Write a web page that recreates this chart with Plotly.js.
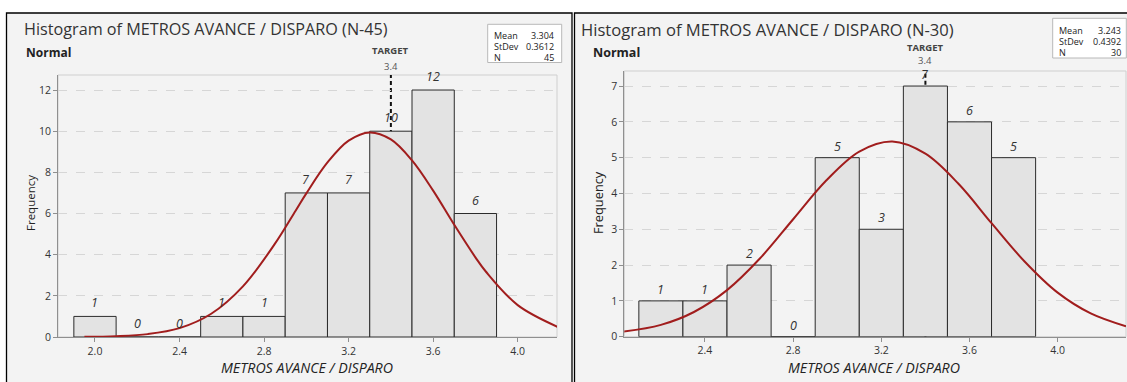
<!DOCTYPE html>
<html>
<head>
<meta charset="utf-8">
<script src="https://cdn.plot.ly/plotly-3.0.1.min.js"></script>
<style>
  html, body { margin: 0; padding: 0; background: #ffffff; }
  #chart { width: 1127px; height: 382px; }
</style>
</head>
<body>
<div id="chart"></div>
<script>
// ---------- DATA ----------
// Left panel (N = 45)
const leftBinCenters = [2.0, 2.2, 2.4, 2.6, 2.8, 3.0, 3.2, 3.4, 3.6, 3.8];
const leftCounts     = [1, 0, 0, 1, 1, 7, 7, 10, 12, 6];
const leftTitle = "Histogram of METROS AVANCE / DISPARO (N-45)";
const leftStatsLabels = ["Mean", "StDev", "N"];
const leftStatsValues = ["3.304", "0.3612", "45"];
// fitted normal curve
const leftCurveX = [1.95, 2.1, 2.25, 2.4, 2.55, 2.7, 2.85, 2.95, 3.0, 3.1, 3.2, 3.3, 3.4, 3.5, 3.6, 3.7, 3.8, 3.85, 4.0, 4.19];
const leftCurveY = [0.009, 0.039, 0.14, 0.43, 1.13, 2.46, 4.51, 6.15, 6.98, 8.48, 9.54, 9.94, 9.60, 8.58, 7.11, 5.45, 3.87, 3.17, 1.55, 0.49];

// Right panel (N = 30)
const rightBinCenters = [2.2, 2.4, 2.6, 2.8, 3.0, 3.2, 3.4, 3.6, 3.8];
const rightCounts     = [1, 1, 2, 0, 5, 3, 7, 6, 5];
const rightTitle = "Histogram of METROS AVANCE / DISPARO (N-30)";
const rightStatsLabels = ["Mean", "StDev", "N"];
const rightStatsValues = ["3.243", "0.4392", "30"];
const rightCurveX = [2.03, 2.2, 2.35, 2.5, 2.65, 2.8, 2.95, 3.1, 3.25, 3.4, 3.55, 3.7, 3.85, 4.0, 4.15, 4.31];
const rightCurveY = [0.14, 0.33, 0.69, 1.30, 2.19, 3.28, 4.36, 5.17, 5.45, 5.11, 4.27, 3.17, 2.10, 1.23, 0.65, 0.29];

const targetValue = 3.4;
const targetLabel = "TARGET";
const xAxisTitle = "METROS AVANCE / DISPARO";
const yAxisTitle = "Frequency";
const distLabel = "Normal";

// ---------- LAYOUT HELPERS ----------
const W = 1127, H = 382;
const px = v => v / W;
const py = v => 1 - v / H;
const FONT = "Open Sans, Noto Sans, DejaVu Sans, sans-serif";

const barColor = "#e3e3e3";
const barLine = "#2b2b2b";
const curveColor = "#a11d1d";

function barTrace(x, y, xa, ya) {
  return {
    type: "bar", x: x, y: y, width: 0.2, xaxis: xa, yaxis: ya,
    marker: { color: barColor, line: { color: barLine, width: 1 } },
    hoverinfo: "skip", showlegend: false
  };
}
function curveTrace(x, y, xa, ya) {
  return {
    type: "scatter", mode: "lines", x: x, y: y, xaxis: xa, yaxis: ya,
    line: { color: curveColor, width: 2, shape: "spline", smoothing: 1 },
    hoverinfo: "skip", showlegend: false, cliponaxis: true
  };
}

const data = [
  barTrace(leftBinCenters, leftCounts, "x", "y"),
  curveTrace(leftCurveX, leftCurveY, "x", "y"),
  barTrace(rightBinCenters, rightCounts, "x2", "y2"),
  curveTrace(rightCurveX, rightCurveY, "x2", "y2")
];

function xAxisCfg(domain, range, anchor) {
  return {
    domain: domain, range: range, anchor: anchor,
    tick0: 2.0, dtick: 0.4, tickformat: ".1f",
    showline: true, linecolor: "#8f8f8f", linewidth: 1,
    ticks: "outside", ticklen: 4, tickcolor: "#8f8f8f",
    tickfont: { family: FONT, size: 10.5, color: "#333" },
    showgrid: false, zeroline: false, fixedrange: true
  };
}
function yAxisCfg(domain, range, anchor, dtick) {
  return {
    domain: domain, range: range, anchor: anchor, dtick: dtick, tick0: 0,
    showline: true, linecolor: "#8f8f8f", linewidth: 1,
    ticks: "outside", ticklen: 4, tickcolor: "#8f8f8f",
    tickfont: { family: FONT, size: 10.5, color: "#333" },
    showgrid: true, gridcolor: "#d6d6d6", griddash: "dash", gridwidth: 1,
    zeroline: false, fixedrange: true
  };
}

const shapes = [
  // panel backgrounds
  { type: "rect", xref: "paper", yref: "paper", x0: px(6.5), x1: px(572), y0: py(390), y1: py(13),
    fillcolor: "#f3f3f3", line: { color: "#000", width: 1.3 }, layer: "below" },
  { type: "rect", xref: "paper", yref: "paper", x0: px(574.5), x1: px(1135), y0: py(390), y1: py(13),
    fillcolor: "#f3f3f3", line: { color: "#000", width: 1.3 }, layer: "below" },
  // stats boxes
  { type: "rect", xref: "paper", yref: "paper", x0: px(487.7), x1: px(561.7), y0: py(62.5), y1: py(24.3),
    fillcolor: "#ffffff", line: { color: "#b8b8b8", width: 1 }, layer: "below" },
  { type: "rect", xref: "paper", yref: "paper", x0: px(1052.7), x1: px(1126.3), y0: py(58), y1: py(18.3),
    fillcolor: "#ffffff", line: { color: "#b8b8b8", width: 1 }, layer: "below" },
  // plot frames
  { type: "rect", xref: "x domain", yref: "y domain", x0: 0, x1: 1, y0: 0, y1: 1,
    line: { color: "#cfcfcf", width: 1 }, layer: "below" },
  { type: "rect", xref: "x2 domain", yref: "y2 domain", x0: 0, x1: 1, y0: 0, y1: 1,
    line: { color: "#cfcfcf", width: 1 }, layer: "below" },
  // target lines (behind the bars)
  { type: "line", xref: "x", yref: "y domain", x0: targetValue, x1: targetValue, y0: 0, y1: 1,
    line: { color: "#111", width: 2, dash: "4px,3px" }, layer: "below" },
  { type: "line", xref: "x2", yref: "y2 domain", x0: targetValue, x1: targetValue, y0: 0, y1: 1,
    line: { color: "#111", width: 2, dash: "4px,3px" }, layer: "below" }
];

const ann = [];
function txt(o) { ann.push(Object.assign({ showarrow: false, xref: "paper", yref: "paper" }, o)); }

// titles
txt({ x: px(22), y: py(29), xanchor: "left", yanchor: "middle", text: leftTitle,
      font: { family: FONT, size: 16.2, color: "#333" } });
txt({ x: px(579), y: py(29), xanchor: "left", yanchor: "middle", text: rightTitle,
      font: { family: FONT, size: 16.6, color: "#333" } });
txt({ x: px(24), y: py(52.5), xanchor: "left", yanchor: "middle", text: "<b>" + distLabel + "</b>",
      font: { family: FONT, size: 12, color: "#222" } });
txt({ x: px(591), y: py(52.5), xanchor: "left", yanchor: "middle", text: "<b>" + distLabel + "</b>",
      font: { family: FONT, size: 12.5, color: "#222" } });

// stats
const leftStatY = [35, 46.6, 57.6];
const rightStatY = [30, 41.6, 52.6];
leftStatsLabels.forEach((l, i) => {
  txt({ x: px(491.5), y: py(leftStatY[i]), xanchor: "left", yanchor: "middle", text: l,
        font: { family: FONT, size: 9, color: "#222" } });
  txt({ x: px(555.5), y: py(leftStatY[i]), xanchor: "right", yanchor: "middle", text: leftStatsValues[i],
        font: { family: FONT, size: 9, color: "#222" } });
});
rightStatsLabels.forEach((l, i) => {
  txt({ x: px(1056.5), y: py(rightStatY[i]), xanchor: "left", yanchor: "middle", text: l,
        font: { family: FONT, size: 9, color: "#222" } });
  txt({ x: px(1122.5), y: py(rightStatY[i]), xanchor: "right", yanchor: "middle", text: rightStatsValues[i],
        font: { family: FONT, size: 9, color: "#222" } });
});

// target labels
txt({ xref: "x", x: targetValue, y: py(50.5), xanchor: "center", yanchor: "middle", text: "<b>" + targetLabel + "</b>",
      font: { family: FONT, size: 9.5, color: "#444" } });
txt({ xref: "x", x: targetValue, y: py(66), xanchor: "center", yanchor: "middle", text: String(targetValue),
      font: { family: FONT, size: 9.5, color: "#555" } });
txt({ xref: "x2", x: targetValue, y: py(47.5), xanchor: "center", yanchor: "middle", text: "<b>" + targetLabel + "</b>",
      font: { family: FONT, size: 9.5, color: "#444" } });
txt({ xref: "x2", x: targetValue, y: py(60), xanchor: "center", yanchor: "middle", text: String(targetValue),
      font: { family: FONT, size: 9.5, color: "#555" } });

// axis titles
txt({ x: px(30), y: py(203), xanchor: "center", yanchor: "middle", textangle: -90, text: yAxisTitle,
      font: { family: FONT, size: 11.5, color: "#222" } });
txt({ x: px(598), y: py(203), xanchor: "center", yanchor: "middle", textangle: -90, text: yAxisTitle,
      font: { family: FONT, size: 12.8, color: "#222" } });
txt({ x: px(307), y: py(367), xanchor: "center", yanchor: "middle", text: xAxisTitle,
      font: { family: FONT, size: 14.2, color: "#222", style: "italic" } });
txt({ x: px(874), y: py(367), xanchor: "center", yanchor: "middle", text: xAxisTitle,
      font: { family: FONT, size: 14.2, color: "#222", style: "italic" } });

// bar labels
leftBinCenters.forEach((c, i) => {
  ann.push({ xref: "x", yref: "y", x: c, y: leftCounts[i], xanchor: "center", yanchor: "bottom", yshift: 3,
             showarrow: false, text: String(leftCounts[i]),
             font: { family: FONT, size: 12.5, color: "#333", style: "italic" } });
});
rightBinCenters.forEach((c, i) => {
  ann.push({ xref: "x2", yref: "y2", x: c, y: rightCounts[i], xanchor: "center", yanchor: "bottom", yshift: 1,
             showarrow: false, text: String(rightCounts[i]),
             font: { family: FONT, size: 12.5, color: "#333", style: "italic" } });
});

const layout = {
  width: W, height: H, autosize: false,
  margin: { l: 0, r: 0, t: 0, b: 0, pad: 0 },
  paper_bgcolor: "#ffffff", plot_bgcolor: "#ffffff",
  showlegend: false, barmode: "overlay",
  font: { family: FONT },
  xaxis: xAxisCfg([px(58), px(557)], [1.825, 4.186], "y"),
  yaxis: yAxisCfg([py(337), py(75)], [0, 12.73], "x", 2),
  xaxis2: xAxisCfg([px(624.3), px(1126)], [2.034, 4.31], "y2"),
  yaxis2: yAxisCfg([py(336.7), py(71)], [0, 7.42], "x2", 1),
  shapes: shapes,
  annotations: ann
};

Plotly.newPlot("chart", data, layout, { staticPlot: true, displayModeBar: false });
</script>
</body>
</html>
